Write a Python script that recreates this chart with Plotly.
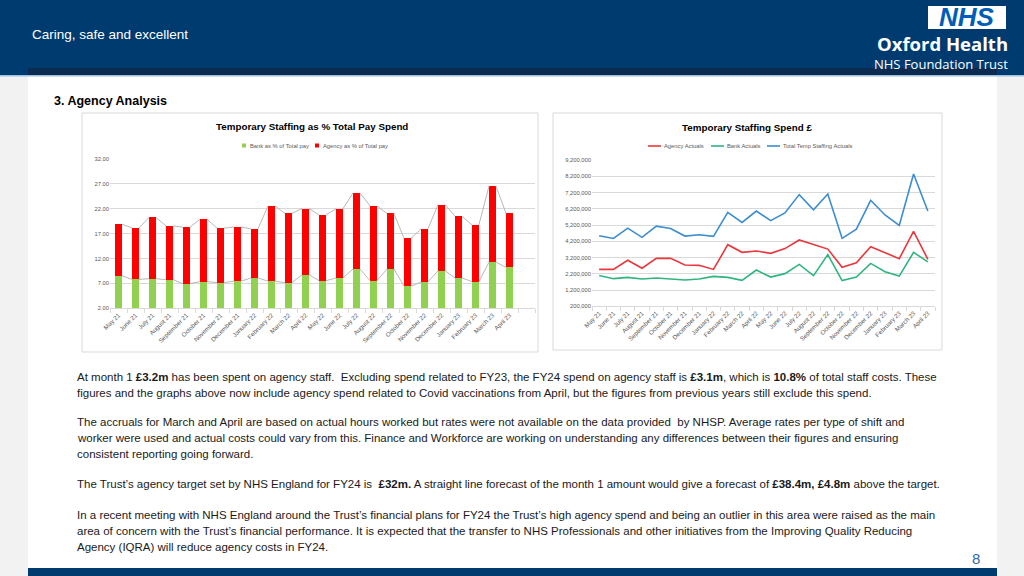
import plotly.graph_objects as go

# ---------------- data ----------------
months = ["May 21", "June 21", "July 21", "August 21", "September 21", "October 21",
          "November 21", "December 21", "January 22", "February 22", "March 22", "April 22",
          "May 22", "June 22", "July 22", "August 22", "September 22", "October 22",
          "November 22", "December 22", "January 23", "February 23", "March 23", "April 23"]

# Left chart: % of total pay
bank_pct = [8.55, 7.80, 7.95, 7.75, 6.95, 7.35, 7.15, 7.45, 8.10, 7.45, 7.15, 8.75,
            7.55, 8.10, 9.90, 7.55, 9.90, 6.45, 7.25, 9.55, 8.10, 7.35, 11.30, 10.20]
agency_pct = [10.35, 10.35, 12.30, 10.80, 11.35, 12.55, 10.95, 10.90, 9.85, 15.15, 13.90, 13.30,
              13.25, 13.90, 15.30, 15.00, 11.15, 9.60, 10.70, 13.30, 12.40, 11.40, 15.30, 10.85]
pct_ticks = [2, 7, 12, 17, 22, 27, 32]

# Right chart: spend in £
agency_actuals = [2470000, 2470000, 3030000, 2540000, 3150000, 3150000, 2740000, 2720000,
                  2470000, 3990000, 3520000, 3600000, 3460000, 3750000, 4280000, 4010000,
                  3720000, 2600000, 2880000, 3870000, 3520000, 3130000, 4810000, 3090000]
bank_actuals = [2090000, 1900000, 1980000, 1880000, 1940000, 1860000, 1820000, 1880000,
                2040000, 1980000, 1800000, 2430000, 2000000, 2210000, 2780000, 2090000,
                3380000, 1780000, 2000000, 2840000, 2330000, 2060000, 3520000, 2930000]
total_actuals = [4540000, 4370000, 5010000, 4440000, 5130000, 4990000, 4520000, 4600000,
                 4500000, 5980000, 5360000, 6060000, 5470000, 5940000, 7070000, 6140000,
                 7110000, 4380000, 4950000, 6720000, 5820000, 5180000, 8340000, 6060000]
spend_ticks = [200000, 1200000, 2200000, 3200000, 4200000, 5200000, 6200000, 7200000, 8200000, 9200000]

# ---------------- styling ----------------
W, H = 1024, 576
F = "Liberation Sans, Arial, sans-serif"
HEADER = "#003B70"
GRID = "#d9d9d9"
TICKC = "#595959"
GREEN_BAR = "#92d050"
RED_BAR = "#ff0000"
C_AG = "#e8383d"
C_BK = "#2fb57f"
C_TOT = "#3c8dd0"
BW = 0.4


def X(p):
    return p / W


def Y(p):
    return 1 - p / H


fig = go.Figure()
idx = list(range(len(months)))

# stacked bars
fig.add_trace(go.Bar(x=idx, y=bank_pct, width=BW, marker=dict(color=GREEN_BAR, line=dict(width=0)),
                     name="Bank as % of Total pay", xaxis="x", yaxis="y"))
fig.add_trace(go.Bar(x=idx, y=agency_pct, width=BW, marker=dict(color=RED_BAR, line=dict(width=0)),
                     name="Agency as % of Total pay", xaxis="x", yaxis="y"))


# Excel-style series lines between bars
def series_line(vals):
    xs, ys = [], []
    for i in range(len(vals) - 1):
        xs += [i + BW / 2, i + 1 - BW / 2, None]
        ys += [vals[i], vals[i + 1], None]
    return xs, ys


tops = [b + a for b, a in zip(bank_pct, agency_pct)]
for vals in (bank_pct, tops):
    xs, ys = series_line(vals)
    fig.add_trace(go.Scatter(x=xs, y=ys, mode="lines", line=dict(color="#a6a6a6", width=0.8),
                             hoverinfo="skip", xaxis="x", yaxis="y"))

# right chart lines
for vals, col, nm in ((agency_actuals, C_AG, "Agency Actuals"),
                      (bank_actuals, C_BK, "Bank Actuals"),
                      (total_actuals, C_TOT, "Total Temp Staffing Actuals")):
    fig.add_trace(go.Scatter(x=idx, y=vals, mode="lines", line=dict(color=col, width=1.6),
                             name=nm, xaxis="x2", yaxis="y2"))

tickfont = dict(family=F, size=5.8, color=TICKC)
xtickfont = dict(family=F, size=6.2, color=TICKC)

fig.update_layout(
    width=W, height=H, margin=dict(l=0, r=0, t=0, b=0, pad=0, autoexpand=False),
    paper_bgcolor="#f2f2f2", plot_bgcolor="rgba(0,0,0,0)",
    barmode="stack", bargap=0, showlegend=False,
    xaxis=dict(domain=[X(110), X(535)], range=[-0.5, 24.5], anchor="y", automargin=False,
               tickvals=idx, ticktext=months, tickangle=-45, tickfont=xtickfont,
               ticks="", showgrid=False, zeroline=False, showline=True, linecolor=GRID,
               minor=dict(tick0=-0.5, dtick=1, ticks="outside", ticklen=4, tickcolor=GRID)),
    yaxis=dict(domain=[Y(308.3), Y(159)], range=[2, 32], anchor="x", automargin=False,
               tickvals=pct_ticks, tickformat=".2f", ticksuffix="%", tickfont=tickfont,
               showgrid=True, gridcolor=GRID, gridwidth=1, zeroline=False, showline=False),
    xaxis2=dict(domain=[X(592), X(935)], range=[-0.5, 23.5], anchor="y2", automargin=False,
                tickvals=idx, ticktext=months, tickangle=-45, tickfont=xtickfont,
                ticks="", showgrid=False, zeroline=False, showline=True, linecolor=GRID,
                minor=dict(tick0=-0.5, dtick=1, ticks="outside", ticklen=4, tickcolor=GRID)),
    yaxis2=dict(domain=[Y(306.3), Y(160)], range=[200000, 9200000], anchor="x2", automargin=False,
                tickvals=spend_ticks, tickformat=",d", tickfont=tickfont,
                showgrid=True, gridcolor=GRID, gridwidth=1, zeroline=False, showline=False),
)

shapes = []


def rect(x0, y0, x1, y1, fill, line_col=None, lw=0, layer="below"):
    shapes.append(dict(type="rect", xref="paper", yref="paper", x0=X(x0), x1=X(x1), y0=Y(y1), y1=Y(y0),
                       fillcolor=fill, line=dict(color=line_col or fill, width=lw), layer=layer))


# slide background pieces
rect(28, 76, 997, 568, "white")
rect(0, 0, 1024, 75, HEADER)
rect(28, 68, 997, 75, "#0b2b50")
rect(0, 75, 1024, 76.5, "#9dbfe0")
rect(28, 568, 997, 576, HEADER)
# chart boxes
rect(82, 113, 538, 352, "white", "#d9d9d9", 1)
rect(553, 113, 942, 350, "white", "#d9d9d9", 1)
# NHS logo box
rect(928, 6, 1006, 29, "white")

# legend symbols
rect(242, 143.5, 246, 147.5, GREEN_BAR, layer="above")
rect(315, 143.5, 319, 147.5, RED_BAR, layer="above")
for x0, col in ((648, C_AG), (711, C_BK), (767, C_TOT)):
    shapes.append(dict(type="line", xref="paper", yref="paper", x0=X(x0), x1=X(x0 + 13),
                       y0=Y(146), y1=Y(146), line=dict(color=col, width=1.6)))
fig.update_layout(shapes=shapes)

annotations = []


def text(x, y, s, size, color="black", anchor="left", family=F, vanchor="middle"):
    annotations.append(dict(x=X(x), y=Y(y), xref="paper", yref="paper", text=s, showarrow=False,
                            xanchor=anchor, yanchor=vanchor, align=anchor,
                            font=dict(family=family, size=size, color=color)))


# header
text(30, 34, "Caring, safe and excellent", 13.5, "white")
text(967, 16.5, "<b><i>NHS</i></b>", 26, "#005EB8", "center")
text(1010, 44, "<b>Oxford Health</b>", 18.5, "white", "right", family="Open Sans, sans-serif")
text(1010, 64.5, "NHS Foundation Trust", 13, "white", "right", family="Open Sans, sans-serif")
text(52, 101, "<b>3. Agency Analysis</b>", 12.5)

# chart titles / legends
text(312, 126, "<b>Temporary Staffing as % Total Pay Spend</b>", 9.8, "black", "center")
text(248, 145.5, "Bank as % of Total pay", 5.8, TICKC)
text(320.5, 145.5, "Agency as % of Total pay", 5.8, TICKC)
text(747, 127, "<b>Temporary Staffing Spend £</b>", 9.8, "black", "center")
text(661.5, 146, "Agency Actuals", 5.8, TICKC)
text(724.5, 146, "Bank Actuals", 5.8, TICKC)
text(780.5, 146, "Total Temp Staffing Actuals", 5.8, TICKC)

# body text
lines = [
    (377, "At month 1 <b>£3.2m</b> has been spent on agency staff.  Excluding spend related to FY23, the FY24 spend on agency staff is <b>£3.1m</b>, which is <b>10.8%</b> of total staff costs. These"),
    (393, "figures and the graphs above now include agency spend related to Covid vaccinations from April, but the figures from previous years still exclude this spend."),
    (422, "The accruals for March and April are based on actual hours worked but rates were not available on the data provided  by NHSP. Average rates per type of shift and"),
    (438, "worker were used and actual costs could vary from this. Finance and Workforce are working on understanding any differences between their figures and ensuring"),
    (454, "consistent reporting going forward."),
    (484, "The Trust’s agency target set by NHS England for FY24 is  <b>£32m.</b> A straight line forecast of the month 1 amount would give a forecast of <b>£38.4m, £4.8m</b> above the target."),
    (515, "In a recent meeting with NHS England around the Trust’s financial plans for FY24 the Trust’s high agency spend and being an outlier in this area were raised as the main"),
    (531, "area of concern with the Trust’s financial performance. It is expected that the transfer to NHS Professionals and other initiatives from the Improving Quality Reducing"),
    (547, "Agency (IQRA) will reduce agency costs in FY24."),
]
for yy, s in lines:
    text(75, yy, s, 11.5, "#1a1a1a")

text(976, 558, "8", 15, "#2e6aa8", "center")

fig.update_layout(annotations=annotations)
fig.write_html("out.html", config={"displayModeBar": False},
               post_script="document.body.style.margin='0';document.body.style.overflow='hidden';")
